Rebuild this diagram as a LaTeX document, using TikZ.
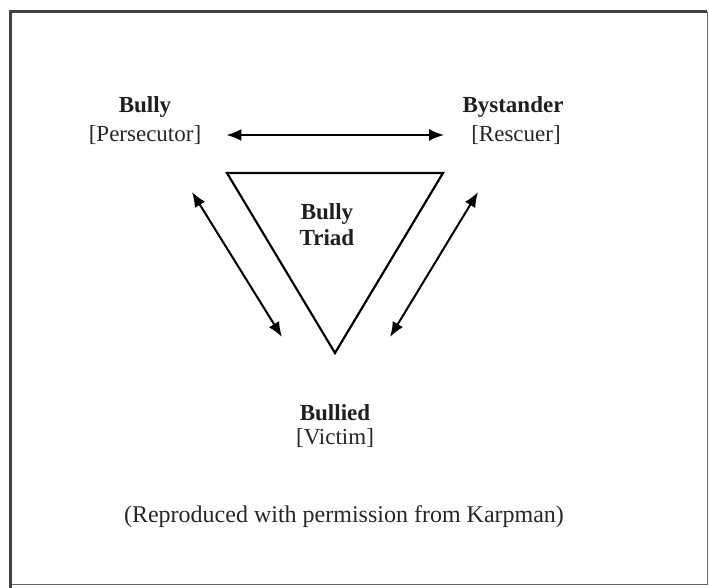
\documentclass[tikz,border=0pt]{standalone}
\usepackage{fontspec}
\setmainfont{Liberation Serif}
\usetikzlibrary{arrows,arrows.meta,positioning}
\tikzset{
actor/.style={
  font=\fontsize{23}{26}\selectfont\bfseries,
  text=black!88,
  inner sep=0pt},
role/.style={
  font=\fontsize{23}{26}\selectfont,
  text=black!85,
  inner sep=0pt},
line/.style={draw, line width=2pt,
  {Latex[length=15pt,width=12pt]}-{Latex[length=15pt,width=12pt]}},
edge/.style={draw, line width=2.2pt, line join=miter}
}
\begin{document}
\begin{tikzpicture}[x=1pt,y=-1pt]
    \useasboundingbox (0,0) rectangle (709,588);
    \draw[black!60, line width=1pt] (707,12) -- (707,584) -- (10,584);
    \draw[black!75, line width=3pt] (10,588) -- (10,12) -- (707,12);
    \node [actor] (bully) at (145,107) {Bully};
    \node [role] (persecutor) at (145,135) {[Persecutor]};
    \node [actor] (bystander) at (513,107) {Bystander};
    \node [role] (rescuer) at (516,135) {[Rescuer]};
    \node [actor] (bullied) at (335,413) {Bullied};
    \node [role] (victim) at (335,438) {[Victim]};
    \node [actor, align=center] (triad) at (327,225) {Bully\\Triad};
    \coordinate (t1) at (227,173);
    \coordinate (t2) at (443,173);
    \coordinate (t3) at (335,353);
    \path [edge] (t1) -- (t2) -- (t3) -- cycle;
    \coordinate (a1) at (192,192);
    \coordinate (a2) at (282,337);
    \coordinate (b1) at (478,192);
    \coordinate (b2) at (390,337);
    \path [line, shorten <=25pt, shorten >=27pt] (persecutor.east) -- (rescuer.west);
    \path [line] (a1) -- (a2);
    \path [line] (b1) -- (b2);
    \node [role, font=\fontsize{24}{27}\selectfont] (source) at (344,517) {(Reproduced with permission from Karpman)};
\end{tikzpicture}
\end{document}
